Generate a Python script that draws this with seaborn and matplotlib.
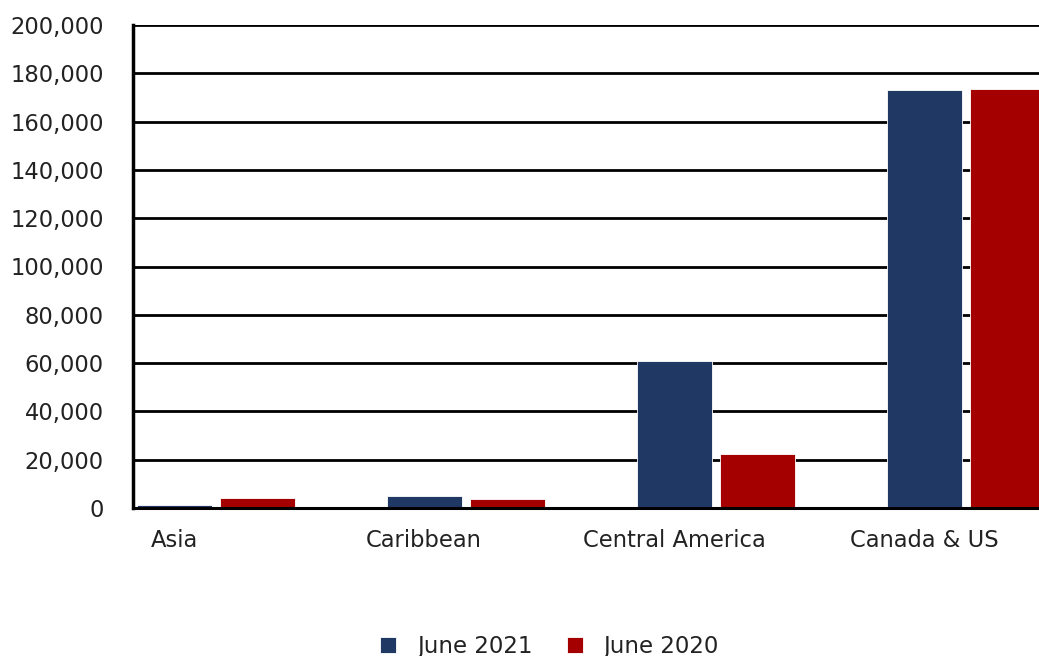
import pandas as pd
import matplotlib.pyplot as plt
import seaborn as sns
from matplotlib.ticker import FuncFormatter

regions = ["Asia", "Caribbean", "Central America", "Canada & US"]
june_2021 = [1300, 5000, 60900, 173100]
june_2020 = [4100, 3700, 22400, 173500]
series_names = ["June 2021", "June 2020"]
palette = {"June 2021": "#1F3864", "June 2020": "#A50000"}
y_ticks = list(range(0, 200001, 20000))

df = pd.DataFrame({
    "region": regions * 2,
    "value": june_2021 + june_2020,
    "series": [series_names[0]] * 4 + [series_names[1]] * 4,
})

sns.set_style("white")
plt.rcParams["font.family"] = ["DejaVu Sans"]

fig = plt.figure(figsize=(10.39, 6.56), dpi=100)
ax = fig.add_axes([0.128, 0.2256, 0.872, 0.7363])

sns.barplot(
    data=df, x="region", y="value", hue="series", order=regions,
    hue_order=series_names, palette=palette, width=0.668, gap=0.1,
    edgecolor="white", linewidth=0.6, saturation=1, ax=ax, legend=True,
)

ax.set_ylim(0, 200000)
ax.set_xlim(-0.332, 3.292)
ax.set_yticks(y_ticks)
ax.yaxis.set_major_formatter(FuncFormatter(lambda v, p: f"{int(v):,}"))
ax.set_xticks([i - 0.168 for i in range(len(regions))])
ax.set_xticklabels(regions)
ax.grid(axis="y", color="black", linewidth=2)
ax.set_axisbelow(True)
ax.tick_params(axis="both", length=0, labelsize=16.3, colors="#222222")
ax.tick_params(axis="y", pad=21)
ax.tick_params(axis="x", pad=15)
ax.set_xlabel("")
ax.set_ylabel("")
for side in ["top", "right"]:
    ax.spines[side].set_visible(False)
ax.spines["left"].set_linewidth(2.5)
ax.spines["left"].set_color("black")
ax.spines["bottom"].set_linewidth(2.2)
ax.spines["bottom"].set_color("black")

handles, labels = ax.get_legend_handles_labels()
ax.legend_.remove()
fig.legend(
    handles, labels, loc="center", bbox_to_anchor=(0.529, 0.0145),
    ncol=2, frameon=False, fontsize=16.5, handlelength=0.7, handleheight=0.7,
    handletextpad=0.9, columnspacing=1.5, labelcolor="#222222",
)

fig.savefig("out.png", dpi=100)
